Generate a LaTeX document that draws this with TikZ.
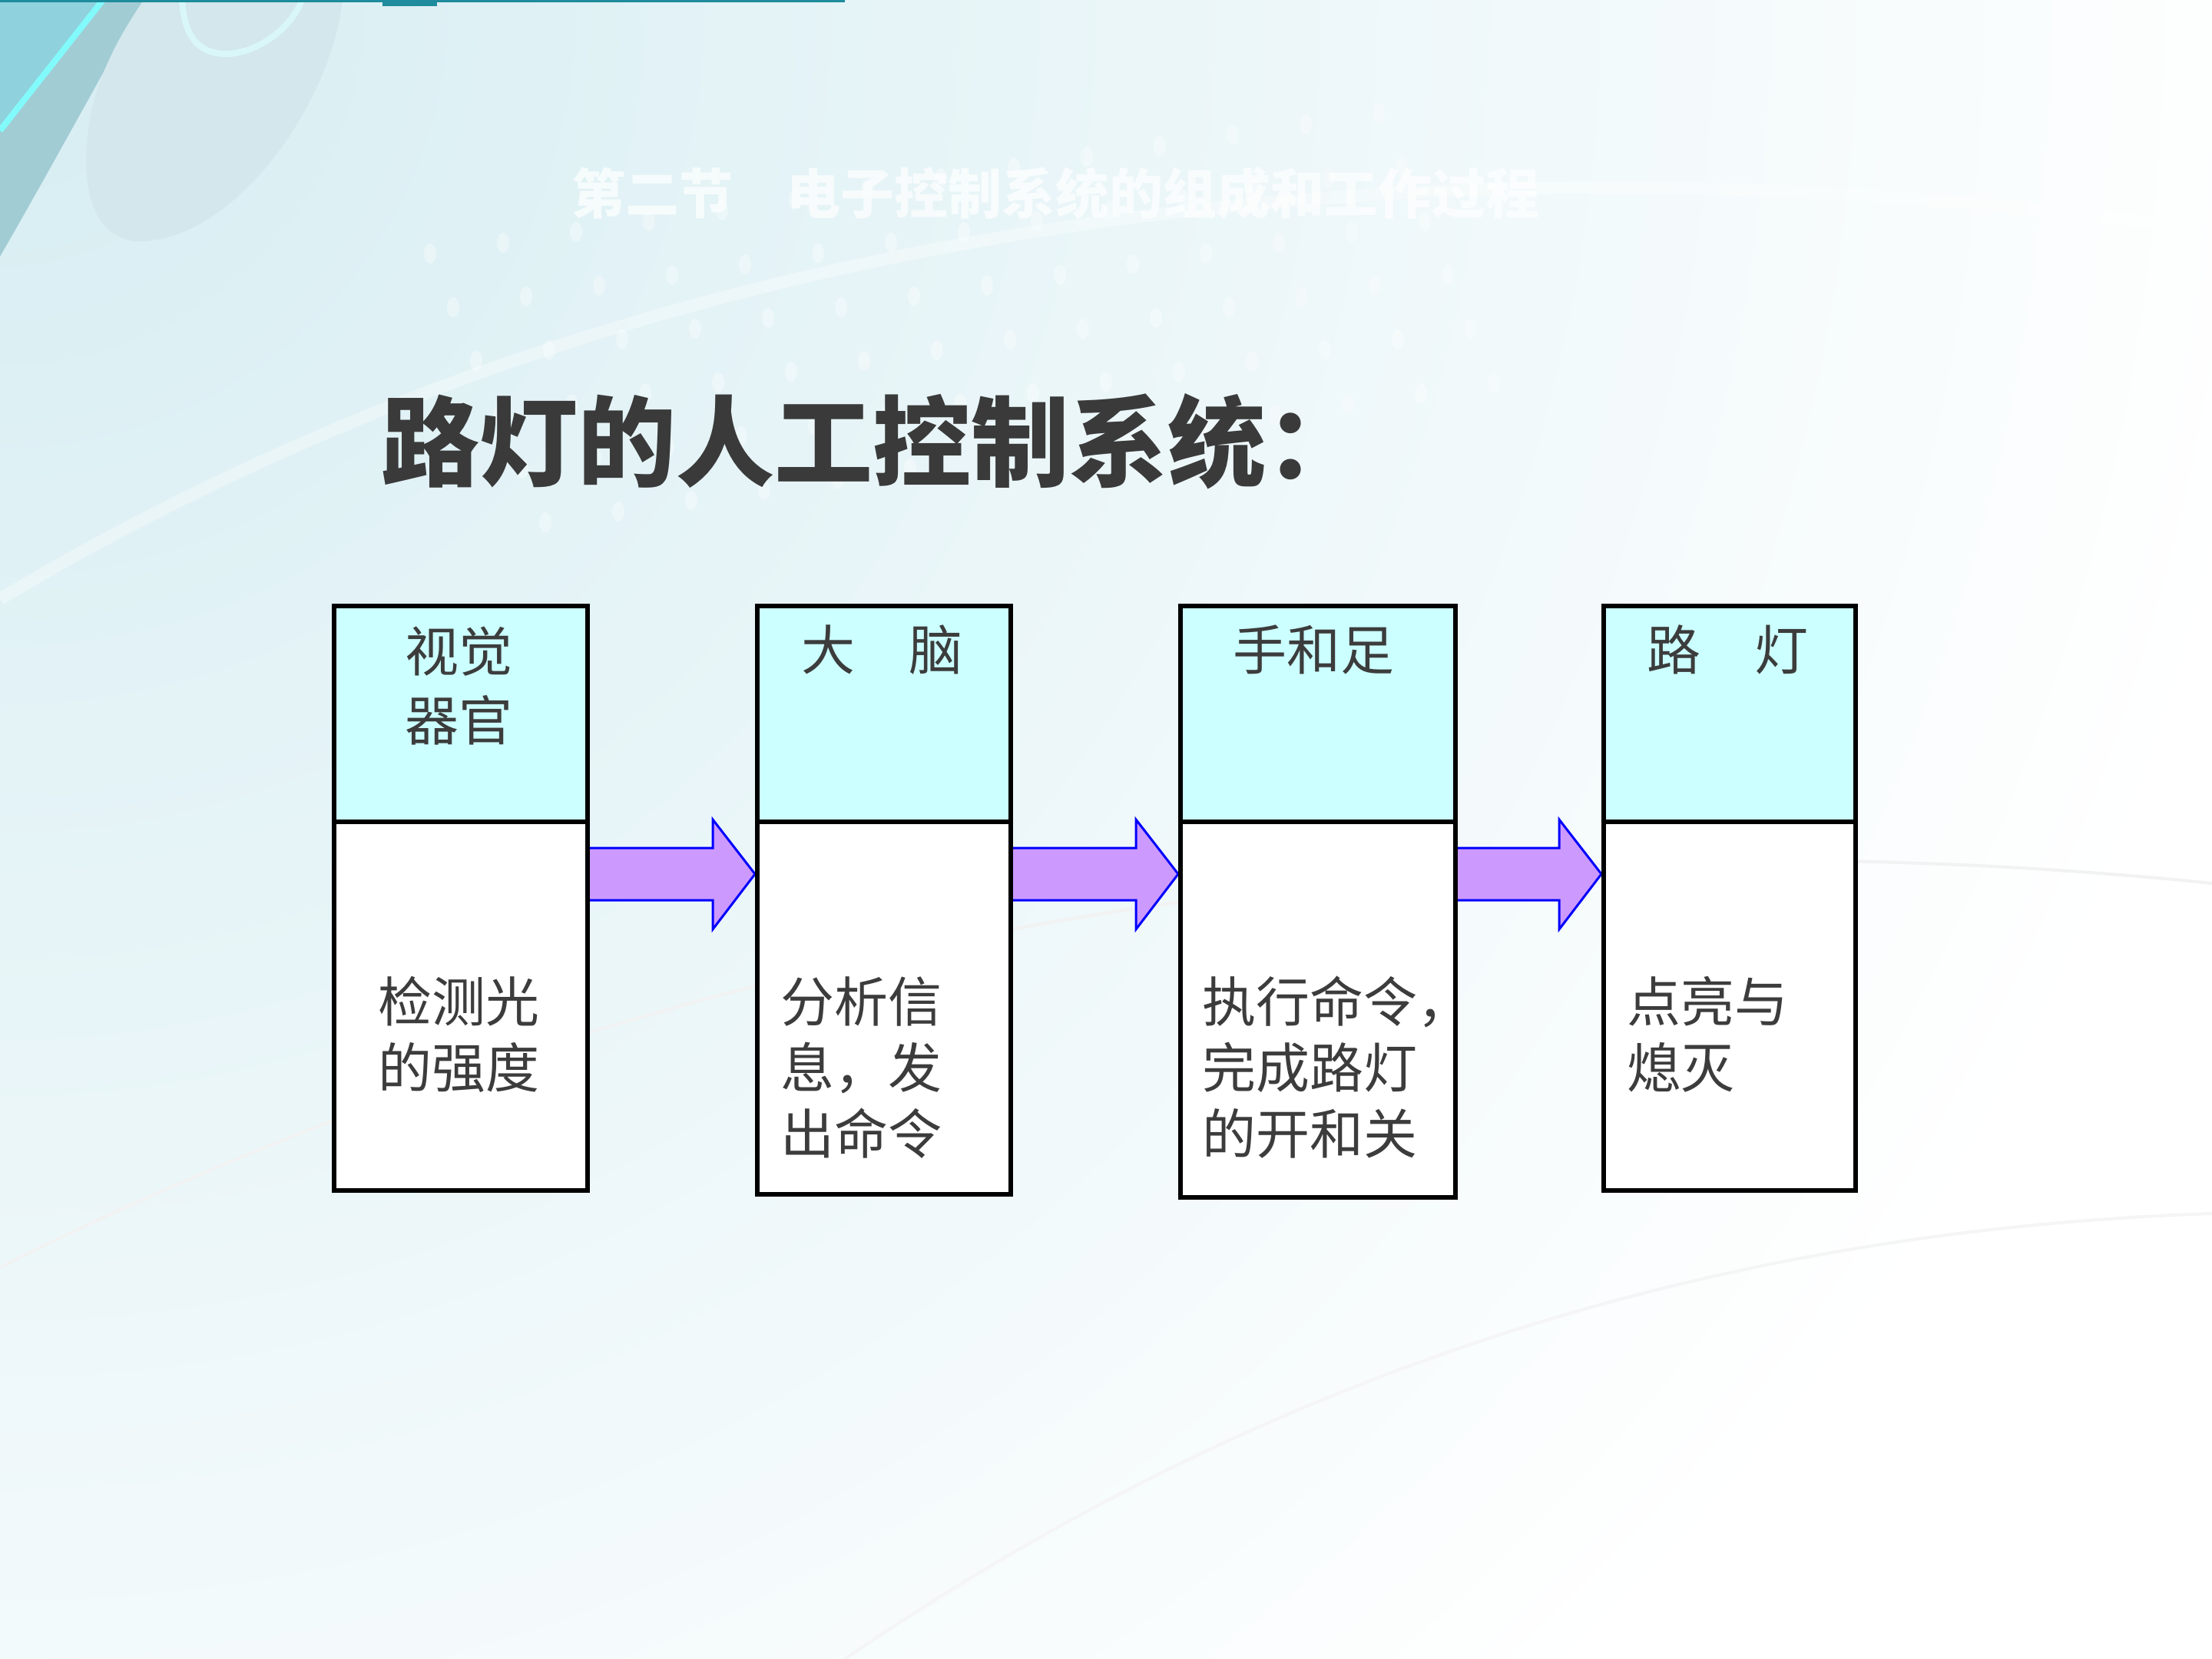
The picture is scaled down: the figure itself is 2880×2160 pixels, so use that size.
\documentclass[tikz,border=0pt]{standalone}
\usepackage{fontspec}
\newfontfamily\cjk{Noto Sans CJK SC}
\usetikzlibrary{calc}
\pgfdeclarelayer{bg}
\pgfdeclarelayer{arr}
\pgfsetlayers{bg,arr,main}
\definecolor{hdr}{HTML}{CCFFFF}
\definecolor{arrfill}{HTML}{CC99FF}
\definecolor{arrline}{HTML}{0000FF}
\definecolor{txt}{HTML}{3C3C3C}
\definecolor{ttl}{HTML}{3A3A3A}
\definecolor{wash}{HTML}{D6EDF2}
\definecolor{tealA}{HTML}{8FD1DD}
\definecolor{tealB}{HTML}{A2CCD4}
\definecolor{paleE}{HTML}{D3E7ED}
\definecolor{ringc}{HTML}{D9F7F9}
\definecolor{tealD}{HTML}{1E8C9C}
\tikzset{
  hbox/.style={draw=black, line width=1.4pt, fill=hdr, anchor=north west, inner sep=0pt, minimum height=70.25pt},
  lbox/.style={draw=black, line width=1.4pt, fill=white, anchor=north west, inner sep=0pt},
  btext/.style={font=\cjk\fontsize{17.5pt}{21.5pt}\selectfont, text=txt, inner sep=0pt, align=left, anchor=base west},
  htext/.style={font=\cjk\fontsize{17.5pt}{22.5pt}\selectfont, text=txt, inner sep=0pt, align=center, anchor=base},
  barrow/.style={draw=arrline, fill=arrfill, line width=0.75pt, line join=miter},
}
\begin{document}
\begin{tikzpicture}[x=0.25pt,y=-0.25pt]
\useasboundingbox (0,0) rectangle (2880,2160);
\begin{pgfonlayer}{bg}
  \fill[white] (0,0) rectangle (2880,2160);
  \begin{scope}
    \clip (0,0) rectangle (2880,2160);
    \shade[inner color=wash, outer color=white] (0,0) circle (3000);
    % faint arcs
    \draw[white, line width=4pt, opacity=0.35] (0,780) .. controls (800,300) and (1800,150) .. (2880,300);
    \draw[black!5, line width=1pt] (0,1650) .. controls (900,1200) and (1900,1050) .. (2880,1150);
    \draw[black!4, line width=1pt] (1100,2160) .. controls (1700,1750) and (2300,1600) .. (2880,1580);
    % teal decoration top-left
    \fill[tealB] (134,0) -- (187,0) .. controls (120,120) and (60,230) .. (0,334) -- (0,170) -- cycle;
    \fill[tealA] (0,0) -- (134,0) -- (0,170) -- cycle;
    \draw[ringc!60!cyan, line width=2pt] (134,0) -- (0,170);
    \fill[paleE] (187,0) -- (446,0) .. controls (430,140) and (300,320) .. (175,314)
      .. controls (110,305) and (105,220) .. (118,150) .. controls (130,90) and (160,40) .. (187,0) -- cycle;
    \draw[ringc, line width=2pt] (237,0) .. controls (240,55) and (265,72) .. (300,70)
      .. controls (340,66) and (380,35) .. (393,0);
    \fill[tealD] (0,0) rectangle (1100,3);
    \fill[tealD] (498,0) rectangle (569,8);
    % faint white dots
    \foreach \i in {0,...,13}{
      \foreach \j in {0,...,5}{
        \fill[white, opacity=0.35] ({560+\i*95+\j*30},{330+\j*70-\i*14}) ellipse (8 and 13);
      }
    }
  \end{scope}
  \node[font=\cjk\bfseries\fontsize{17.5pt}{20pt}\selectfont, text=white, opacity=0.7, anchor=base west, inner sep=0pt] (sub) at (744,279) {第二节　电子控制系统的组成和工作过程};
\end{pgfonlayer}

% title
\node[font=\cjk\bfseries\fontsize{32pt}{36pt}\selectfont, text=ttl, anchor=base west, inner sep=0pt] (title) at (496,624) {路灯的人工控制系统：};

% boxes
\node[hbox, minimum width=82.5pt] (h1) at (432,786) {};
\node[lbox, minimum width=82.5pt, minimum height=120pt] (l1) at (432,1067) {};
\node[hbox, minimum width=82.5pt] (h2) at (983,786) {};
\node[lbox, minimum width=82.5pt, minimum height=121.25pt] (l2) at (983,1067) {};
\node[hbox, minimum width=89.5pt] (h3) at (1534,786) {};
\node[lbox, minimum width=89.5pt, minimum height=122.25pt] (l3) at (1534,1067) {};
\node[hbox, minimum width=82pt] (h4) at (2085,786) {};
\node[lbox, minimum width=82pt, minimum height=120pt] (l4) at (2085,1067) {};

% header texts (base anchor = baseline of the last line)
\node[htext] (t1) at (597,964) {视觉\\器官};
\node[htext] (t2) at (1148,873) {大　脑};
\node[htext] (t3) at (1710,873) {手和足};
\node[htext] (t4) at (2249,873) {路　灯};

% lower texts (base anchor = baseline of the last line)
\node[btext] (u1) at (492,1416) {检测光\\的强度};
\node[btext] (u2) at (1016,1502) {分析信\\息，发\\出命令};
\node[btext] (u3) at (1565,1502) {执行命令，\\完成路灯\\的开和关};
\node[btext] (u4) at (2118,1416) {点亮与\\熄灭};

% block arrows
\begin{pgfonlayer}{arr}
  \foreach \a/\b in {l1/l2, l2/l3, l3/l4}{
    \draw[barrow] ($(\a.north east)+(-4,37)$) -- ($(\b.north west)+(-55,37)$)
      -- ($(\b.north west)+(-55,0)$) -- ($(\b.north west)+(0,71)$)
      -- ($(\b.north west)+(-55,143)$) -- ($(\b.north west)+(-55,105)$)
      -- ($(\a.north east)+(-4,105)$) -- cycle;
  }
\end{pgfonlayer}
\end{tikzpicture}
\end{document}
